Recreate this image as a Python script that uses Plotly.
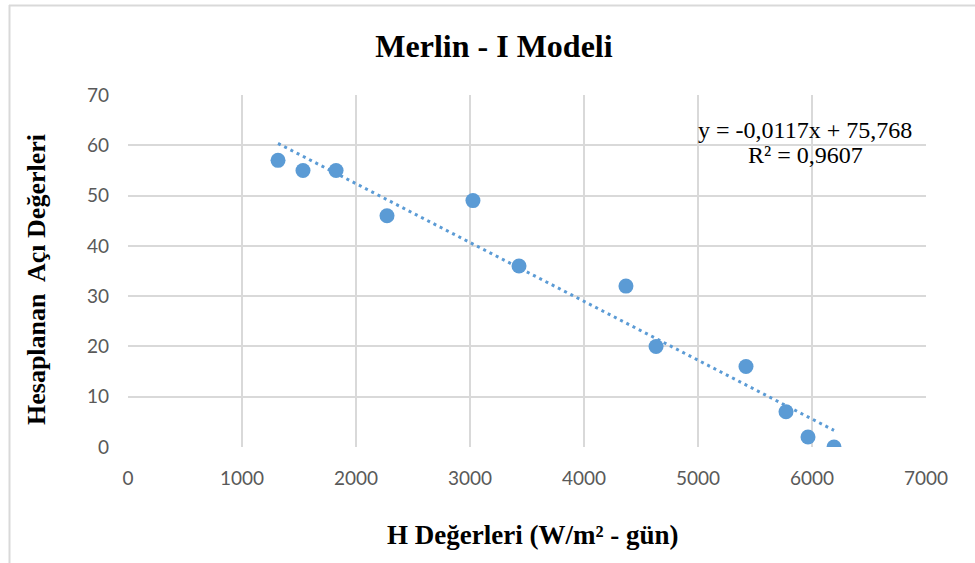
import plotly.graph_objects as go

# Data
h_values = [1316, 1535, 1825, 2272, 3026, 3430, 4368, 4632, 5421, 5772, 5965, 6193]
angle_values = [57, 55, 55, 46, 49, 36, 32, 20, 16, 7, 2, 0]

slope = -0.0117
intercept = 75.768
eq_line1 = "y = -0,0117x + 75,768"
eq_line2 = "R² = 0,9607"

x_ticks = [0, 1000, 2000, 3000, 4000, 5000, 6000, 7000]
y_ticks = [0, 10, 20, 30, 40, 50, 60, 70]

color = "#5B9BD5"

x_min, x_max = min(h_values), max(h_values)
trend_x = [x_min, x_max]
trend_y = [slope * v + intercept for v in trend_x]

fig = go.Figure()
fig.add_trace(go.Scatter(
    x=trend_x, y=trend_y, mode="lines",
    line=dict(color=color, width=3, dash="3px,4px"),
    hoverinfo="skip", showlegend=False,
))
fig.add_trace(go.Scatter(
    x=h_values, y=angle_values, mode="markers",
    marker=dict(color=color, size=15),
    showlegend=False,
))

L, R, T, B = 128, 49, 95, 116
W, H = 975, 563
pw, ph = W - L - R, H - T - B

def px_x(p):
    return (p - L) / pw

def px_y(p):
    return (H - B - p) / ph

serif = "Liberation Serif"
tickfont = dict(family="Lato", size=19, color="#595959")

fig.update_layout(
    width=W, height=H,
    margin=dict(l=L, r=R, t=T, b=B),
    paper_bgcolor="white", plot_bgcolor="white",
    title=dict(text="<b>Merlin - I Modeli</b>", x=494 / W, xanchor="center",
               y=1 - 46 / H, yanchor="middle",
               font=dict(family=serif, size=32, color="black")),
    xaxis=dict(range=[0, 7000], tickvals=x_ticks, showgrid=True, gridcolor="#d9d9d9",
               gridwidth=1.5, zeroline=False, showline=False,
               tickfont=tickfont, ticks="", ticklabelstandoff=18),
    yaxis=dict(range=[0, 70], tickvals=y_ticks, showgrid=True, gridcolor="#d9d9d9",
               gridwidth=1.5, zeroline=False, showline=False,
               tickfont=tickfont, ticks="", ticklabelstandoff=18),
    shapes=[
        dict(type="line", xref="paper", yref="paper", x0=px_x(9), x1=px_x(975),
             y0=px_y(5.5), y1=px_y(5.5), line=dict(color="#d9d9d9", width=2)),
        dict(type="line", xref="paper", yref="paper", x0=px_x(9.5), x1=px_x(9.5),
             y0=px_y(5), y1=px_y(563), line=dict(color="#d9d9d9", width=2)),
    ],
    annotations=[
        dict(text=eq_line1, xref="paper", yref="paper", x=px_x(805), y=px_y(130),
             xanchor="center", yanchor="middle", showarrow=False,
             font=dict(family=serif, size=24, color="black")),
        dict(text=eq_line2, xref="paper", yref="paper", x=px_x(805), y=px_y(155),
             xanchor="center", yanchor="middle", showarrow=False,
             font=dict(family=serif, size=24, color="black")),
        dict(text="<b>H Değerleri (W/m² - gün)</b>", xref="paper", yref="paper",
             x=px_x(533), y=px_y(535), xanchor="center", yanchor="middle", showarrow=False,
             font=dict(family=serif, size=27, color="black")),
        dict(text="<b>Hesaplanan  Açı Değerleri</b>", xref="paper", yref="paper",
             x=px_x(36), y=px_y(280), xanchor="center", yanchor="middle", showarrow=False,
             textangle=-90, font=dict(family=serif, size=26, color="black")),
    ],
)

fig.write_html("out.html", config={"displayModeBar": False},
               post_script="document.body.style.margin='0';")
